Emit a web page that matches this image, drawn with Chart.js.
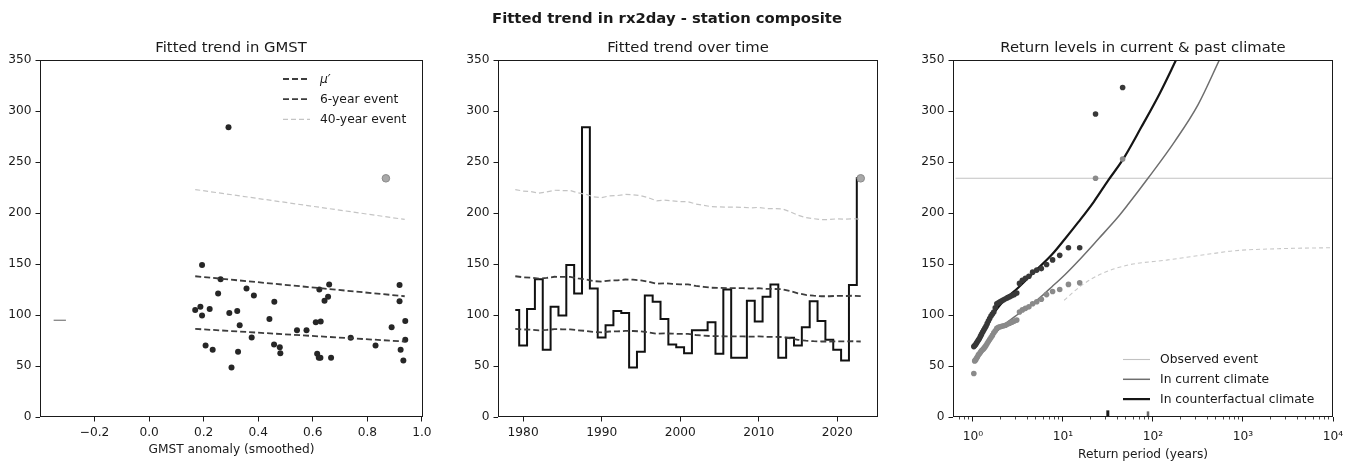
<!DOCTYPE html>
<html>
<head>
<meta charset="utf-8">
<script src="https://cdn.jsdelivr.net/npm/chart.js@4.4.1/dist/chart.umd.min.js"></script>
<style>
  html, body { margin: 0; padding: 0; background: #fff; }
  #fig { position: relative; width: 1355px; height: 464px; overflow: hidden;
         font-family: "DejaVu Sans", sans-serif; color: #1a1a1a; }
  #fig canvas { position: absolute; left: 0; top: 0; }
  .ttl { position: absolute; white-space: nowrap; transform: translateX(-50%);
         font-size: 14.8px; line-height: 17px; }
  .sup { font-weight: bold; }
</style>
</head>
<body>
<div id="fig">
  <canvas id="gmstPanel" width="1355" height="464"></canvas>
  <canvas id="timePanel" width="1355" height="464"></canvas>
  <canvas id="rpPanel" width="1355" height="464"></canvas>
  <div class="ttl sup" style="left:667px; top:9px;">Fitted trend in rx2day - station composite</div>
  <div class="ttl" style="left:231px; top:38px;">Fitted trend in GMST</div>
  <div class="ttl" style="left:688px; top:38px;">Fitted trend over time</div>
  <div class="ttl" style="left:1143px; top:38px;">Return levels in current &amp; past climate</div>
</div>
<script>
// ---------------- annual maxima of 2-day rainfall, station composite ----------------
const years = [1979,1980,1981,1982,1983,1984,1985,1986,1987,1988,1989,1990,1991,1992,1993,
  1994,1995,1996,1997,1998,1999,2000,2001,2002,2003,2004,2005,2006,2007,2008,2009,2010,
  2011,2012,2013,2014,2015,2016,2017,2018,2019,2020,2021,2022,2023];
const rx2day = [105,70,106,135,66,108,99.5,149,121,284,126,78,90,104,102,
  48.6,64,119,113,96,71,68.5,62.6,85,85,93,62,125,58,58,114,93.6,
  118,130,58,77.6,70,88,113.5,94,75.7,66,55.4,129.5,234];
// smoothed GMST anomaly for each year
const gmst = [0.169,0.207,0.222,0.262,0.233,0.188,0.194,0.194,0.253,0.291,0.357,0.376,0.332,0.323,0.294,
  0.302,0.326,0.384,0.459,0.441,0.458,0.479,0.481,0.542,0.577,0.611,0.616,0.624,0.622,0.628,0.643,0.629,
  0.656,0.660,0.667,0.739,0.830,0.889,0.918,0.939,0.939,0.922,0.932,0.918,0.868];

// fitted location and return levels through time
const trendMu = [86.4,85.8,85.6,84.9,85.4,86.1,86.0,86.0,85.0,84.4,83.3,83.0,83.8,83.9,84.4,
  84.3,83.9,82.9,81.7,82.0,81.7,81.4,81.4,80.4,79.8,79.3,79.2,79.1,79.1,79.0,78.8,79.0,
  78.6,78.5,78.4,77.2,75.7,74.8,74.3,74.0,74.0,74.2,74.1,74.3,74.0];
const trend6yr = [138.0,137.0,136.6,135.6,136.3,137.5,137.4,137.4,135.9,134.9,133.2,132.7,133.8,134.0,134.8,
  134.6,134.0,132.5,130.6,131.1,130.6,130.1,130.0,128.5,127.6,126.7,126.6,126.4,126.4,126.3,125.9,126.3,
  125.6,125.5,125.3,123.5,121.2,119.7,118.9,118.4,118.4,118.8,118.6,118.9,118.6];
const trend40yr = [223.0,221.5,220.9,219.4,220.6,222.3,222.0,222.0,219.8,218.3,215.8,215.1,216.8,217.1,218.2,
  217.9,217.0,214.8,211.9,212.6,212.0,211.2,211.1,208.8,207.5,206.2,206.0,205.7,205.7,205.5,205.0,205.5,
  204.4,204.3,204.0,201.3,197.8,195.5,194.4,193.6,193.6,194.3,193.9,194.4,194.0];

// the same fits against GMST (end points)
const fitGmst  = [0.169, 0.937];
const fitMu    = [86.4, 74.0];
const fit6yr   = [138.0, 118.4];
const fit40yr  = [223.0, 193.7];
// short marker at the counterfactual GMST
const cfMarkGmst  = [-0.35, -0.305];
const cfMarkLevel = [94.8, 94.8];

// empirical return periods of the 45 ranked values
const empRp = [1.022,1.045,1.070,1.095,1.122,1.150,1.179,1.211,1.243,1.278,
  1.314,1.353,1.394,1.438,1.484,1.533,1.586,1.643,1.704,1.769,
  1.840,1.917,2.0,2.091,2.190,2.3,2.421,2.556,2.706,2.875,
  3.067,3.286,3.538,3.833,4.182,4.6,5.111,5.75,6.571,7.667,
  9.2,11.5,15.33,23,46];
const empCurrent = [42.6,55,56,57.5,59,61,62,63.5,65,66,
  67,68.5,70,72,74,76,78,80,82.5,84.5,
  87,88,88.5,89,89.5,90,91,92,93,94,
  95,103,105,106.5,108,111,113,115.5,120,123,
  125,130,131.5,234,253];
const empCounterfactual = [69,70,71,72.5,74,75.5,77,79,81,83,
  85,87,89,91.5,94,96.5,99,101,103,107,
  111,112,113,114,115,116,117,118,119,120,
  121.5,131,134,136,138,142,144,145.5,149.5,154,
  158.5,166,166,297,323];

// fitted return level curves
const cfCurveRp    = [1.02,1.1,1.2,1.4,1.62,2.1,3.2,4.9,7.5,10.5,14.8,22,31.8,46,74,120,185];
const cfCurveLevel = [68,74,80,90,99,112,127,143,159,174.5,191,211,232,252,284,318,352];
const curCurveRp    = [1.02,1.1,1.2,1.4,1.62,2.1,3.2,4.9,5.8,7.5,10.5,14.8,25,40,53,88,174,316,560];
const curCurveLevel = [53,58,63,71,78.5,88.5,101,113,118.5,127.5,139.5,153,175,195,208.5,234,270,306,352];
const boundRp    = [10.3,16.1,26.8,53,147,443,803,2500,10000];
const boundLevel = [114.5,129,140.5,149,154,160,163,165,166];

// return period of the event in each climate
const eventRpCurrent = [88, 88];
const eventRpCf      = [31.5, 31.5];
const eventRpMarkCf  = [0, 6.5];
const eventRpMarkCur = [0, 5.5];

// axis ranges and ticks
const yTicks     = [0, 50, 100, 150, 200, 250, 300, 350];
const gmstTicks  = [-0.2, 0.0, 0.2, 0.4, 0.6, 0.8, 1.0];
const yearTicks  = [1980, 1990, 2000, 2010, 2020];
const rpTicks    = [1, 10, 100, 1000, 10000];
const rpLabels   = ['10\u2070', '10\u00b9', '10\u00b2', '10\u00b3', '10\u2074'];
const gmstRange  = [-0.40, 1.004];
const yearRange  = [1976.8, 2025.2];
const rpRange    = [0.64, 10000];

const eventLevel = rx2day[rx2day.length - 1];

// ---------------- styling helpers ----------------
Chart.defaults.font.family = '"DejaVu Sans", sans-serif';
Chart.defaults.color = '#1a1a1a';
const INK = '#1a1a1a';
const TICK_FONT = { family: '"DejaVu Sans", sans-serif', size: 12.2 };

const pts = (xs, ys) => xs.map((x, i) => ({ x: x, y: ys[i] }));

// outline of the axes box
const framePlugin = {
  id: 'frame',
  afterDraw(chart) {
    const { ctx, chartArea: a } = chart;
    ctx.save();
    ctx.strokeStyle = INK;
    ctx.lineWidth = 1;
    ctx.strokeRect(a.left + 0.5, a.top + 0.5, a.right - a.left - 1, a.bottom - a.top - 1);
    ctx.restore();
  }
};

// legend drawn inside the axes, matplotlib style
const insetLegend = {
  id: 'insetLegend',
  afterDraw(chart, args, opts) {
    if (!opts || !opts.display) return;
    const ctx = chart.ctx;
    const items = chart.data.datasets.filter(d => d.inLegend);
    ctx.save();
    items.forEach((d, i) => {
      const y = opts.y + i * opts.rowHeight;
      ctx.beginPath();
      ctx.setLineDash(d.borderDash || []);
      ctx.strokeStyle = d.borderColor;
      ctx.lineWidth = d.borderWidth;
      ctx.moveTo(opts.x, y);
      ctx.lineTo(opts.x + opts.sampleWidth, y);
      ctx.stroke();
      ctx.setLineDash([]);
      ctx.fillStyle = INK;
      ctx.font = (d.legendItalic ? 'italic ' : '') + opts.fontSize + 'px "DejaVu Sans", sans-serif';
      ctx.textBaseline = 'middle';
      ctx.textAlign = 'left';
      ctx.fillText(d.label, opts.x + opts.sampleWidth + opts.gap, y + 0.5);
    });
    ctx.restore();
  }
};

function levelAxis() {
  return {
    type: 'linear', min: 0, max: 350,
    afterBuildTicks: s => { s.ticks = yTicks.map(v => ({ value: v })); },
    ticks: { font: TICK_FONT, color: INK, padding: 4, autoSkip: false },
    grid: { drawOnChartArea: false, drawTicks: true, tickLength: 4.5, color: INK },
    border: { display: false },
    afterFit: s => { s.width = 40; }
  };
}

function baseOptions(padLeft, padRight) {
  return {
    responsive: false,
    animation: false,
    devicePixelRatio: 1,
    layout: { padding: { left: padLeft, right: padRight, top: 60, bottom: 0 } },
    plugins: { legend: { display: false }, tooltip: { enabled: false } },
    elements: { line: { tension: 0 } }
  };
}

// ---------------- panel 1: trend against GMST ----------------
(function () {
  const opts = baseOptions(0, 1355 - 423);
  opts.scales = {
    x: {
      type: 'linear', min: gmstRange[0], max: gmstRange[1],
      afterBuildTicks: s => { s.ticks = gmstTicks.map(v => ({ value: v })); },
      ticks: { font: TICK_FONT, color: INK, padding: 4, autoSkip: false, maxRotation: 0,
               callback: v => v.toFixed(1).replace('-', '\u2212') },
      grid: { drawOnChartArea: false, drawTicks: true, tickLength: 4.5, color: INK },
      border: { display: false },
      title: { display: true, text: 'GMST anomaly (smoothed)', color: INK,
               font: { family: '"DejaVu Sans", sans-serif', size: 12.2 }, padding: { top: 0, bottom: 6.7 } },
      afterFit: s => { s.height = 47; }
    },
    y: levelAxis()
  };
  opts.plugins.insetLegend = { display: true, x: 283, y: 79, rowHeight: 20.2, sampleWidth: 27, gap: 10, fontSize: 12.3 };

  const n = years.length;
  new Chart(document.getElementById('gmstPanel'), {
    type: 'scatter',
    data: {
      datasets: [
        { label: 'rx2day', data: pts(gmst.slice(0, n - 1), rx2day.slice(0, n - 1)),
          pointRadius: 3, pointBackgroundColor: '#262626', pointBorderWidth: 0, showLine: false, order: 1 },
        { label: '2023', data: pts(gmst.slice(n - 1), rx2day.slice(n - 1)),
          pointRadius: 3.8, pointBackgroundColor: '#a8a8a8', pointBorderColor: '#8a8a8a', pointBorderWidth: 1,
          showLine: false, order: 1 },
        { label: '\u03bc\u2032', inLegend: true, legendItalic: true, data: pts(fitGmst, fitMu),
          showLine: true, borderColor: '#3d3d3d', borderWidth: 1.8, borderDash: [6, 3], pointRadius: 0, order: 0 },
        { label: '6-year event', inLegend: true, data: pts(fitGmst, fit6yr),
          showLine: true, borderColor: '#3d3d3d', borderWidth: 1.8, borderDash: [6, 3], pointRadius: 0, order: 0 },
        { label: '40-year event', inLegend: true, data: pts(fitGmst, fit40yr),
          showLine: true, borderColor: '#c4c4c4', borderWidth: 1.2, borderDash: [5, 3], pointRadius: 0, order: 0 },
        { label: 'counterfactual GMST', data: pts(cfMarkGmst, cfMarkLevel),
          showLine: true, borderColor: '#8c8c8c', borderWidth: 1.4, pointRadius: 0, order: 0 }
      ]
    },
    options: opts,
    plugins: [framePlugin, insetLegend]
  });
})();

// ---------------- panel 2: trend over time ----------------
(function () {
  const opts = baseOptions(498 - 40, 1355 - 878);
  opts.scales = {
    x: {
      type: 'linear', min: yearRange[0], max: yearRange[1],
      afterBuildTicks: s => { s.ticks = yearTicks.map(v => ({ value: v })); },
      ticks: { font: TICK_FONT, color: INK, padding: 4, autoSkip: false, maxRotation: 0,
               callback: v => String(v) },
      grid: { drawOnChartArea: false, drawTicks: true, tickLength: 4.5, color: INK },
      border: { display: false },
      afterFit: s => { s.height = 47; }
    },
    y: levelAxis()
  };
  const n = years.length;
  new Chart(document.getElementById('timePanel'), {
    type: 'scatter',
    data: {
      datasets: [
        { label: 'rx2day', data: pts(years, rx2day), showLine: true, stepped: 'middle',
          borderColor: '#111', borderWidth: 2, pointRadius: 0, order: 2 },
        { label: '2023', data: pts(years.slice(n - 1), rx2day.slice(n - 1)),
          pointRadius: 3.8, pointBackgroundColor: '#a8a8a8', pointBorderColor: '#8a8a8a', pointBorderWidth: 1,
          showLine: false, order: 0 },
        { label: '\u03bc\u2032', data: pts(years, trendMu), showLine: true,
          borderColor: '#3d3d3d', borderWidth: 1.8, borderDash: [6, 3], pointRadius: 0, order: 1 },
        { label: '6-year event', data: pts(years, trend6yr), showLine: true,
          borderColor: '#3d3d3d', borderWidth: 1.8, borderDash: [6, 3], pointRadius: 0, order: 1 },
        { label: '40-year event', data: pts(years, trend40yr), showLine: true,
          borderColor: '#c4c4c4', borderWidth: 1.2, borderDash: [5, 3], pointRadius: 0, order: 1 }
      ]
    },
    options: opts,
    plugins: [framePlugin]
  });
})();

// ---------------- panel 3: return levels ----------------
(function () {
  const opts = baseOptions(953 - 40, 1355 - 1333);
  const minorTicks = [];
  for (let d = 0.1; d < 10000; d *= 10) {
    for (let m = 2; m <= 9; m++) {
      const v = Math.round(m * d * 1000) / 1000;
      if (v >= rpRange[0] && v <= rpRange[1]) minorTicks.push(v);
    }
  }
  opts.scales = {
    xMinor: {
      type: 'logarithmic', position: 'bottom', weight: -1, min: rpRange[0], max: rpRange[1],
      afterBuildTicks: s => { s.ticks = minorTicks.map(v => ({ value: v })); },
      ticks: { callback: () => '', autoSkip: false, maxRotation: 0 },
      grid: { drawOnChartArea: false, drawTicks: true, tickLength: 2.5, color: INK, lineWidth: 0.8 },
      border: { display: false },
      afterFit: s => { s.height = 0; }
    },
    x: {
      type: 'logarithmic', position: 'bottom', weight: 0, min: rpRange[0], max: rpRange[1],
      afterBuildTicks: s => { s.ticks = rpTicks.map(v => ({ value: v })); },
      ticks: { font: TICK_FONT, color: INK, padding: 8, autoSkip: false, maxRotation: 0,
               callback: (v, i) => rpLabels[i] },
      grid: { drawOnChartArea: false, drawTicks: true, tickLength: 4.5, color: INK },
      border: { display: false },
      title: { display: true, text: 'Return period (years)', color: INK,
               font: { family: '"DejaVu Sans", sans-serif', size: 12.2 }, padding: { top: 0, bottom: 1.7 } },
      afterFit: s => { s.height = 47; }
    },
    y: levelAxis()
  };
  opts.plugins.insetLegend = { display: true, x: 1123, y: 359.5, rowHeight: 19.8, sampleWidth: 27, gap: 10, fontSize: 12.3 };

  new Chart(document.getElementById('rpPanel'), {
    type: 'scatter',
    data: {
      datasets: [
        { label: 'Observed event', inLegend: true, data: pts(rpRange, [eventLevel, eventLevel]),
          showLine: true, borderColor: '#c2c2c2', borderWidth: 1.1, pointRadius: 0, order: 5 },
        { label: 'In current climate', inLegend: true, data: pts(curCurveRp, curCurveLevel),
          showLine: true, cubicInterpolationMode: 'monotone', borderColor: '#6e6e6e', borderWidth: 1.5,
          pointRadius: 0, order: 3 },
        { label: 'In counterfactual climate', inLegend: true, data: pts(cfCurveRp, cfCurveLevel),
          showLine: true, cubicInterpolationMode: 'monotone', borderColor: '#151515', borderWidth: 2.2,
          pointRadius: 0, order: 3 },
        { label: 'upper bound', data: pts(boundRp, boundLevel), showLine: true,
          cubicInterpolationMode: 'monotone', borderColor: '#c8c8c8', borderWidth: 1.1, borderDash: [4, 3],
          pointRadius: 0, order: 4 },
        { label: 'current (empirical)', data: pts(empRp, empCurrent), showLine: false,
          pointRadius: 2.8, pointBackgroundColor: '#8a8a8a', pointBorderWidth: 0, order: 1 },
        { label: 'counterfactual (empirical)', data: pts(empRp, empCounterfactual), showLine: false,
          pointRadius: 2.8, pointBackgroundColor: '#383838', pointBorderWidth: 0, order: 1 },
        { label: 'return period, counterfactual', data: pts(eventRpCf, eventRpMarkCf), showLine: true,
          borderColor: '#1a1a1a', borderWidth: 3, pointRadius: 0, order: 0 },
        { label: 'return period, current', data: pts(eventRpCurrent, eventRpMarkCur), showLine: true,
          borderColor: '#6a6a6a', borderWidth: 2.5, pointRadius: 0, order: 0 }
      ]
    },
    options: opts,
    plugins: [framePlugin, insetLegend]
  });
})();
</script>
</body>
</html>
